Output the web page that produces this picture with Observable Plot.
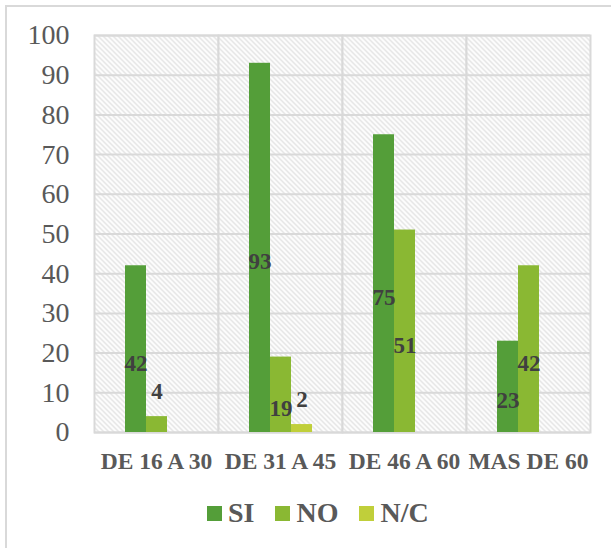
<!DOCTYPE html>
<html>
<head>
<meta charset="utf-8">
<script src="https://cdn.jsdelivr.net/npm/d3@7"></script>
<script src="https://cdn.jsdelivr.net/npm/@observablehq/plot@0.6"></script>
<style>
  body { margin: 0; background: #fff; font-family: "Liberation Serif", "Times New Roman", serif; }
  #wrap { position: relative; width: 611px; height: 548px; overflow: hidden; }
  #border { position: absolute; left: 5px; top: 5px; width: 620px; height: 560px; border: 2px solid #d9d9d9; box-sizing: border-box; }
  #chart { position: absolute; left: 0; top: 0; }
  #legend { position: absolute; left: 207px; top: 497px; display: flex; align-items: center; font-weight: bold; font-size: 28px; line-height: 32px; color: #595959; }
  #legend .item { display: flex; align-items: center; margin-right: 21px; }
  #legend .sw { width: 15px; height: 15px; margin-right: 6px; }
</style>
</head>
<body>
<div id="wrap">
  <div id="border"></div>
  <div id="chart"></div>
  <div id="legend"></div>
</div>
<script>
const categories = ["DE 16 A 30", "DE 31 A 45", "DE 46 A 60", "MAS DE 60"];
const seriesNames = ["SI", "NO", "N/C"];
const siValues = [42, 93, 75, 23];
const noValues = [4, 19, 51, 42];
const ncValues = [null, 2, null, null];
const colors = ["#549E39", "#8AB833", "#C0CF3A"];
const yTicks = [0, 10, 20, 30, 40, 50, 60, 70, 80, 90, 100];

const seriesValues = [siValues, noValues, ncValues];
const data = [];
categories.forEach((c, i) => {
  seriesNames.forEach((s, j) => {
    const v = seriesValues[j][i];
    if (v != null) data.push({category: c, series: s, value: v});
  });
});

const font = "'Liberation Serif', 'Times New Roman', serif";

const chart = Plot.plot({
  width: 611,
  height: 490,
  marginLeft: 92,
  marginRight: 20,
  marginTop: 35,
  marginBottom: 58,
  style: {fontFamily: font, background: "transparent"},
  fx: {domain: categories, padding: 0, label: null},
  x: {domain: seriesNames, paddingInner: 0, paddingOuter: 1.34, axis: null},
  y: {domain: [0, 100], label: null},
  color: {domain: seriesNames, range: colors},
  marks: [
    Plot.frame({fill: "url(#hatch)", stroke: "#d9d9d9", strokeWidth: 2}),
    Plot.gridY(yTicks, {stroke: "#d9d9d9", strokeOpacity: 1, strokeWidth: 2}),
    Plot.barY(data, {fx: "category", x: "series", y: "value", fill: "series", inset: 0}),
    Plot.text(data.filter(d => d.value >= 10), {
      fx: "category", x: "series", y: d => d.value / 2, text: d => String(d.value),
      dy: 14, fontSize: 23, fontWeight: "bold", fill: "#404040", fontFamily: font
    }),
    Plot.text(data.filter(d => d.value < 10), {
      fx: "category", x: "series", y: "value", text: d => String(d.value),
      dy: -25, fontSize: 23, fontWeight: "bold", fill: "#404040", fontFamily: font
    }),
    Plot.axisY(yTicks, {tickSize: 0, tickPadding: 25, fontSize: 28, fill: "#595959", label: null, fontFamily: font}),
    Plot.axisFx({anchor: "bottom", tickSize: 0, tickPadding: 20, fontSize: 23.5, fontWeight: "bold", fill: "#595959", label: null, fontFamily: font})
  ]
});

const ns = "http://www.w3.org/2000/svg";
const defs = document.createElementNS(ns, "defs");
const pat = document.createElementNS(ns, "pattern");
pat.setAttribute("id", "hatch");
pat.setAttribute("patternUnits", "userSpaceOnUse");
pat.setAttribute("width", "5");
pat.setAttribute("height", "5");
const bg = document.createElementNS(ns, "rect");
bg.setAttribute("width", "5"); bg.setAttribute("height", "5"); bg.setAttribute("fill", "#ffffff");
pat.appendChild(bg);
const p = document.createElementNS(ns, "path");
p.setAttribute("d", "M0,0L5,5M-1,4L1,6M4,-1L6,1");
p.setAttribute("stroke", "#d9d9d9");
p.setAttribute("stroke-width", "1.1");
pat.appendChild(p);
defs.appendChild(pat);
chart.insertBefore(defs, chart.firstChild);

document.getElementById("chart").appendChild(chart);

const legend = document.getElementById("legend");
seriesNames.forEach((s, i) => {
  const item = document.createElement("div");
  item.className = "item";
  const sw = document.createElement("div");
  sw.className = "sw";
  sw.style.background = colors[i];
  const t = document.createElement("span");
  t.textContent = s;
  item.appendChild(sw);
  item.appendChild(t);
  legend.appendChild(item);
});
</script>
</body>
</html>
